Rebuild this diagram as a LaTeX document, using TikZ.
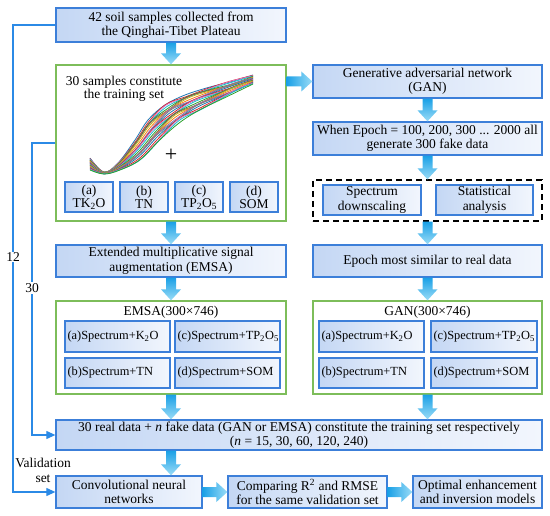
\documentclass[tikz,border=0pt]{standalone}
\usepackage{fontspec}
\setmainfont{Liberation Serif}
\usetikzlibrary{arrows.meta,calc}
\definecolor{boxblue}{HTML}{3C7FD9}
\definecolor{boxL}{HTML}{C4D7F4}
\definecolor{boxR}{HTML}{F2F6FD}
\definecolor{grn}{HTML}{7DBD5A}
\definecolor{lineblue}{HTML}{2B8AE6}
\definecolor{arrA}{HTML}{1AA0E6}
\definecolor{arrB}{HTML}{9ADCF7}
\definecolor{tabc0}{HTML}{1f77b4}
\definecolor{tabc1}{HTML}{ff7f0e}
\definecolor{tabc2}{HTML}{2ca02c}
\definecolor{tabc3}{HTML}{d62728}
\definecolor{tabc4}{HTML}{9467bd}
\definecolor{tabc5}{HTML}{8c564b}
\definecolor{tabc6}{HTML}{e377c2}
\definecolor{tabc7}{HTML}{7f7f7f}
\definecolor{tabc8}{HTML}{bcbd22}
\definecolor{tabc9}{HTML}{17becf}
\newcommand\blkdown[2]{\path[top color=arrA,bottom color=arrB] let \p1=(#1), \p2=(#2) in
  (\x1-5pt,\y1) -- (\x1-5pt,\y2+11pt) -- (\x1-10pt,\y2+11pt) -- (\x1,\y2) -- (\x1+10pt,\y2+11pt) -- (\x1+5pt,\y2+11pt) -- (\x1+5pt,\y1) -- cycle;}
\newcommand\blkright[2]{\path[left color=arrA,right color=arrB] let \p1=(#1), \p2=(#2) in
  (\x1,\y1-5pt) -- (\x2-11pt,\y1-5pt) -- (\x2-11pt,\y1-10pt) -- (\x2,\y1) -- (\x2-11pt,\y1+10pt) -- (\x2-11pt,\y1+5pt) -- (\x1,\y1+5pt) -- cycle;}
\begin{document}
\begin{tikzpicture}[x=1pt,y=-1pt,
  every node/.style={font=\fontsize{13.5}{14.5}\selectfont},
  bbox/.style={draw=boxblue,line width=1.3pt,left color=boxL,right color=boxR,align=center,inner sep=1pt},
  gbox/.style={draw=grn,line width=1.3pt,inner sep=0pt},
  sbox/.style={bbox,font=\fontsize{12.4}{13}\selectfont,align=left,inner sep=2.5pt},
  conn/.style={draw=lineblue,line width=1.2pt},
  tip/.style={-{Triangle[length=9pt,width=8pt]}}]
\useasboundingbox (0,0) rectangle (550,516);
% left column
\node[bbox,minimum width=230pt,minimum height=34pt] (top) at (171,25) {42 soil samples collected from\\the Qinghai-Tibet Plateau};
\node[gbox,minimum width=230pt,minimum height=156pt] (g1) at (171,143) {};
\node[align=center,font=\fontsize{13.5}{13}\selectfont] (g1t) at (124,89) {30 samples constitute\\the training set};
\foreach \i in {0,...,24}{
  \pgfmathsetmacro\t{\i/24}
  \pgfmathtruncatemacro\ci{mod(\i*3,10)}
  \pgfmathsetmacro\w{1.5*sin(\i*53)}
  \draw[color=tabc\ci,line width=0.8pt] plot[smooth,tension=0.6] coordinates {(90,{158+12*\t}) (104,{172+2*\t}) ({118+2*\t},{163+7*\t}) ({135+5*\t},{140+20*\t+\w}) ({148+12*\t},{120+20*\t+\w}) ({165+15*\t},{105+17*\t-\w}) ({185+15*\t},{95+15*\t+\w}) ({210+10*\t},{87+13*\t}) ({230+10*\t},{82+8*\t-\w}) (253,{75+9*\t})};
}
\node[font=\fontsize{22}{22}\selectfont,inner sep=0pt] (plus) at (171,155) {+};
\node[bbox,minimum width=48pt,minimum height=30pt,font=\fontsize{13.5}{13}\selectfont] (sa) at (89,197) {(a)\\TK\textsubscript{2}O};
\node[bbox,minimum width=48pt,minimum height=30pt,font=\fontsize{13.5}{13}\selectfont] (sb) at (144,197) {(b)\\TN};
\node[bbox,minimum width=48pt,minimum height=30pt,font=\fontsize{13.5}{13}\selectfont] (sc) at (199,197) {(c)\\TP\textsubscript{2}O\textsubscript{5}};
\node[bbox,minimum width=48pt,minimum height=30pt,font=\fontsize{13.5}{13}\selectfont] (sd) at (254,197) {(d)\\SOM};
\node[bbox,minimum width=230pt,minimum height=32pt] (emsa) at (171,261) {Extended multiplicative signal\\augmentation (EMSA)};
\node[gbox,minimum width=230pt,minimum height=93pt] (g2) at (171,347.5) {};
\node (t2) at (171,312) {EMSA(300×746)};
\node[sbox,text width=100pt,minimum height=31pt] (ea) at (117.5,336.5) {(a)Spectrum+K\textsubscript{2}O};
\node[sbox,text width=100pt,minimum height=31pt] (ec) at (227.5,336.5) {(c)Spectrum+TP\textsubscript{2}O\textsubscript{5}};
\node[sbox,text width=100pt,minimum height=30pt] (eb) at (117.5,373) {(b)Spectrum+TN};
\node[sbox,text width=100pt,minimum height=30pt] (ed) at (227.5,373) {(d)Spectrum+SOM};
% right column
\node[bbox,minimum width=229pt,minimum height=33pt] (gan) at (427.5,81.5) {Generative adversarial network\\(GAN)};
\node[bbox,minimum width=229pt,minimum height=33pt] (epoch) at (427.5,138.5) {When Epoch = 100, 200, 300 ... 2000 all\\generate 300 fake data};
\node[draw,dashed,dash pattern=on 6pt off 4pt,line width=1.3pt,minimum width=229pt,minimum height=41pt,inner sep=0pt] (dsh) at (427.5,200.5) {};
\node[bbox,minimum width=98pt,minimum height=30pt] (down) at (372,200) {Spectrum\\downscaling};
\node[bbox,minimum width=97pt,minimum height=30pt] (stat) at (484.5,200) {Statistical\\analysis};
\node[bbox,minimum width=229pt,minimum height=32pt] (sim) at (427.5,261) {Epoch most similar to real data};
\node[gbox,minimum width=229pt,minimum height=93pt] (g3) at (427.5,347.5) {};
\node (t3) at (427.5,312) {GAN(300×746)};
\node[sbox,text width=100pt,minimum height=31pt] (na) at (371.5,336.5) {(a)Spectrum+K\textsubscript{2}O};
\node[sbox,text width=101pt,minimum height=31pt] (nc) at (484,336.5) {(c)Spectrum+TP\textsubscript{2}O\textsubscript{5}};
\node[sbox,text width=100pt,minimum height=30pt] (nb) at (371.5,373) {(b)Spectrum+TN};
\node[sbox,text width=101pt,minimum height=30pt] (nd) at (484,373) {(d)Spectrum+SOM};
% bottom
\node[bbox,minimum width=486pt,minimum height=30pt] (big) at (299,435) {30 real data + \textit{n} fake data (GAN or EMSA) constitute the training set respectively\\(\textit{n} = 15, 30, 60, 120, 240)};
\node[bbox,minimum width=146pt,minimum height=32pt] (cnn) at (129,492) {Convolutional neural\\networks};
\node[bbox,minimum width=159pt,minimum height=32pt] (cmp) at (307.5,492) {Comparing R\textsuperscript{2} and RMSE\\for the same validation set};
\node[bbox,minimum width=129pt,minimum height=32pt] (opt) at (477.5,492) {Optimal enhancement\\and inversion models};
% block arrows
\blkdown{top.south}{g1.north}
\blkdown{g1.south}{emsa.north}
\blkdown{emsa.south}{g2.north}
\blkdown{g2.south}{big.north}
\blkdown{big.south -| g2.south}{cnn.north}
\blkdown{gan.south}{epoch.north}
\blkdown{epoch.south}{dsh.north}
\blkdown{dsh.south}{sim.north}
\blkdown{sim.south}{g3.north}
\blkdown{g3.south}{big.north -| g3.south}
\blkright{g1.east |- gan.west}{gan.west}
\blkright{cnn.east}{cmp.west}
\blkright{cmp.east}{opt.west}
% thin connectors
\coordinate (c12a) at (13,25);
\coordinate (c12b) at (13,492);
\coordinate (c30a) at (32,143);
\coordinate (c30b) at (32,435);
\draw[conn,tip] (top.west) -- (c12a) -- (c12b) -- (cnn.west);
\draw[conn,tip] (g1.west) -- (c30a) -- (c30b) -- (big.west);
\node[fill=white,inner sep=1pt] (l12) at (13,257) {12};
\node[fill=white,inner sep=1pt] (l30) at (32,288) {30};
\node[align=center,font=\fontsize{13.5}{15}\selectfont] (val) at (43,470) {Validation\\set};
\end{tikzpicture}
\end{document}
